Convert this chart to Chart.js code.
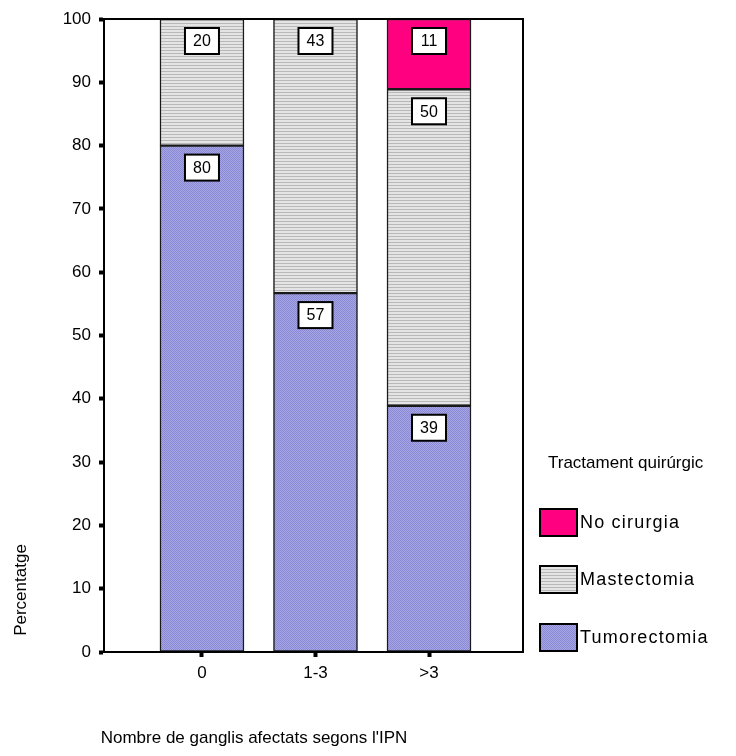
<!DOCTYPE html>
<html>
<head>
<meta charset="utf-8">
<script src="https://cdn.jsdelivr.net/npm/chart.js@4.4.0/dist/chart.umd.min.js"></script>
<style>
  html, body { margin: 0; padding: 0; background: #fff; }
  #wrap { width: 736px; height: 756px; }
</style>
</head>
<body>
<div id="wrap"><canvas id="chart"></canvas></div>
<script>
// categories on the x axis
const categories = ["0", "1-3", ">3"];
// percentages per surgical treatment
const tumorectomia = [80, 56.7, 38.9];
const mastectomia = [20, 43.3, 50];
const noCirurgia = [0, 0, 11.1];
const yTicks = [0, 10, 20, 30, 40, 50, 60, 70, 80, 90, 100];
const legendTitle = "Tractament quirúrgic";
const xTitle = "Nombre de ganglis afectats segons l'IPN";
const yTitle = "Percentatge";

const FONT = "'Liberation Sans', Arial, sans-serif";

const makePattern = (w, h, draw) => {
  const c = document.createElement("canvas");
  c.width = w;
  c.height = h;
  const g = c.getContext("2d");
  draw(g);
  return g.createPattern(c, "repeat");
};
const bluePattern = makePattern(2, 2, (g) => {
  g.fillStyle = "#a6a6e6";
  g.fillRect(0, 0, 2, 2);
  g.fillStyle = "#8a8ad4";
  g.fillRect(0, 0, 1, 1);
  g.fillRect(1, 1, 1, 1);
});
const greyPattern = makePattern(1, 3, (g) => {
  g.fillStyle = "#e4e4e4";
  g.fillRect(0, 0, 1, 3);
  g.fillStyle = "#b8b8b8";
  g.fillRect(0, 2, 1, 1);
});
const magenta = "#ff0080";

const toPoints = (arr) => arr.map((v, i) => ({ x: i, y: v }));

const series = [
  { label: "Tumorectomia", data: tumorectomia, fill: bluePattern },
  { label: "Mastectomia", data: mastectomia, fill: greyPattern },
  { label: "No cirurgia", data: noCirurgia, fill: magenta },
];

// frame, value boxes, axis titles and legend like the SPSS output
const decorations = {
  id: "decorations",
  afterDatasetsDraw(chart) {
    const { ctx, chartArea: a } = chart;
    ctx.save();
    ctx.strokeStyle = "#000";
    ctx.lineWidth = 2;
    ctx.strokeRect(a.left, a.top, a.right - a.left, a.bottom - a.top);
    ctx.restore();
  },
  afterDraw(chart) {
    const { ctx } = chart;
    ctx.save();
    ctx.font = "16px " + FONT;
    ctx.textAlign = "center";
    ctx.textBaseline = "middle";
    chart.data.datasets.forEach((ds, di) => {
      const meta = chart.getDatasetMeta(di);
      meta.data.forEach((bar, i) => {
        const v = ds.data[i].y;
        if (!v) return;
        const txt = String(Math.round(v));
        const w = Math.max(34, ctx.measureText(txt).width + 16);
        const h = 26;
        const top = bar.y + 9;
        ctx.fillStyle = "#fff";
        ctx.fillRect(bar.x - w / 2, top, w, h);
        ctx.strokeStyle = "#000";
        ctx.lineWidth = 2;
        ctx.strokeRect(bar.x - w / 2, top, w, h);
        ctx.fillStyle = "#000";
        ctx.fillText(txt, bar.x, top + h / 2 + 1);
      });
    });

    // axis titles
    ctx.fillStyle = "#000";
    ctx.font = "17px " + FONT;
    ctx.fillText(xTitle, 254, 738);
    ctx.save();
    ctx.translate(21, 590);
    ctx.rotate(-Math.PI / 2);
    ctx.fillText(yTitle, 0, 0);
    ctx.restore();

    // legend (reversed, as in the reference)
    ctx.textAlign = "left";
    ctx.font = "17px " + FONT;
    ctx.fillText(legendTitle, 548, 463);
    ctx.font = "18px " + FONT;
    ctx.letterSpacing = "1.2px";
    const tops = [624, 566, 509];
    series.forEach((s, i) => {
      const y = tops[i];
      ctx.fillStyle = s.fill;
      ctx.fillRect(540, y, 37, 27);
      ctx.strokeStyle = "#000";
      ctx.lineWidth = 2;
      ctx.strokeRect(540, y, 37, 27);
      ctx.fillStyle = "#000";
      ctx.fillText(s.label, 580, y + 14);
    });
    ctx.restore();
  },
};

new Chart(document.getElementById("chart"), {
  type: "bar",
  data: {
    datasets: series.map((s) => ({
      label: s.label,
      data: toPoints(s.data),
      backgroundColor: s.fill,
      borderColor: "#1a1a1a",
      borderWidth: 1.5,
      borderSkipped: false,
      barThickness: 84,
    })),
  },
  options: {
    responsive: true,
    maintainAspectRatio: false,
    animation: false,
    layout: { padding: { top: 19, right: 213, left: 0, bottom: 0 } },
    plugins: {
      legend: { display: false },
      tooltip: { enabled: false },
    },
    scales: {
      x: {
        type: "linear",
        stacked: true,
        offset: false,
        min: -0.863,
        max: 2.828,
        afterBuildTicks: (scale) => {
          scale.ticks = categories.map((c, i) => ({ value: i }));
        },
        afterFit: (scale) => {
          scale.height = 104;
        },
        grid: {
          offset: false,
          drawOnChartArea: false,
          tickLength: 5,
          tickWidth: 4,
          color: "#000",
        },
        border: { color: "#000", width: 2 },
        ticks: {
          callback: (v) => categories[v],
          color: "#000",
          font: { size: 17, family: FONT },
          padding: 6,
          maxRotation: 0,
        },
      },
      y: {
        stacked: true,
        min: 0,
        max: 100,
        afterBuildTicks: (scale) => {
          scale.ticks = yTicks.map((v) => ({ value: v }));
        },
        afterFit: (scale) => {
          scale.width = 104;
        },
        grid: {
          drawOnChartArea: false,
          tickLength: 5,
          tickWidth: 4,
          color: "#000",
        },
        border: { color: "#000", width: 2 },
        ticks: {
          color: "#000",
          font: { size: 17, family: FONT },
          padding: 8,
        },
      },
    },
  },
  plugins: [decorations],
});
</script>
</body>
</html>
